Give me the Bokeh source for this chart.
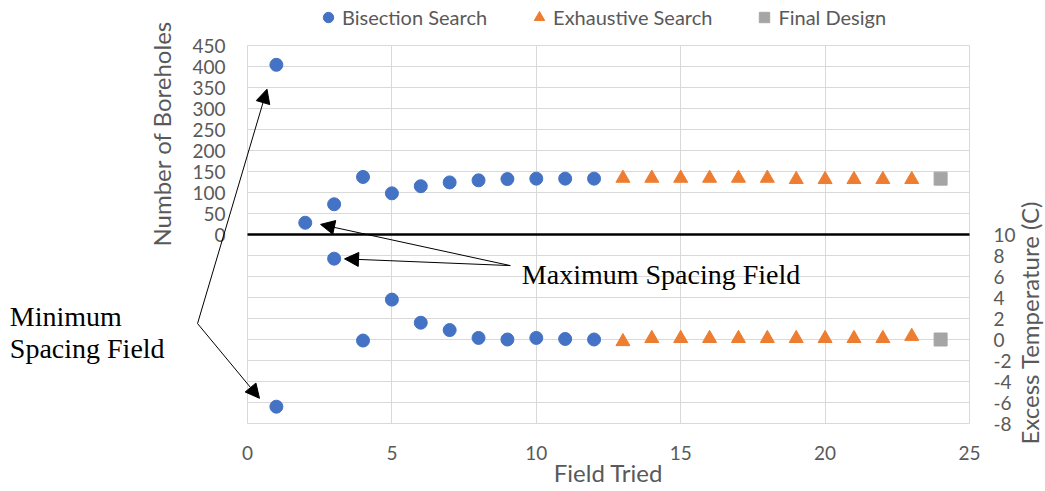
from bokeh.plotting import figure
from bokeh.models import (Range1d, LinearAxis, FixedTicker, Label, Arrow,
                          NormalHead, Legend, LegendItem, PrintfTickFormatter)
from bokeh.embed import file_html
from bokeh.resources import INLINE

nan = float("nan")

# ---- data ----
bis_field = [1, 2, 3, 4, 5, 6, 7, 8, 9, 10, 11, 12]
bis_boreholes = [404, 28, 72, 137, 98, 115, 124, 129, 132, 133, 133, 133]
bis_temp = [-6.4, nan, 7.7, -0.1, 3.8, 1.6, 0.9, 0.15, 0.0, 0.15, 0.05, 0.0]

exh_field = [13, 14, 15, 16, 17, 18, 19, 20, 21, 22, 23]
exh_boreholes = [134, 134, 134, 134, 134, 134, 131, 131, 131, 131, 131]
exh_temp = [-0.2, 0.1, 0.1, 0.1, 0.1, 0.1, 0.1, 0.1, 0.1, 0.1, 0.3]

fin_field = [24]
fin_boreholes = [133]
fin_temp = [0.0]

x_ticks = [0, 5, 10, 15, 20, 25]
left_ticks = [0, 50, 100, 150, 200, 250, 300, 350, 400, 450]
right_ticks = [-8, -6, -4, -2, 0, 2, 4, 6, 8, 10]
grid_y_ticks = list(range(-450, 451, 50))

# ---- styling ----
GRAY_TXT = "#595959"
GRID = "#d9d9d9"
SANS = "Lato"
SERIF = "Liberation Serif"

W, H = 1045, 491
# chart area in canvas pixels: x 0..25 -> 247..969, y 450..-450 -> 45..423
X0, X1 = 247.0, 969.0
SX = (X1 - X0) / 25.0
Y_ZERO = 234.0
SY = 378.0 / 900.0
x_lo, x_hi = -X0 / SX, (W - X0) / SX
y_hi, y_lo = Y_ZERO / SY, (Y_ZERO - H) / SY
t_hi, t_lo = 10 + y_hi / 25.0, 10 + y_lo / 25.0

p = figure(width=W, height=H, x_range=Range1d(x_lo, x_hi), y_range=Range1d(y_lo, y_hi),
           output_backend="svg", toolbar_location=None,
           min_border_left=0, min_border_right=0, min_border_top=0, min_border_bottom=0)
p.extra_y_ranges = {"temp": Range1d(t_lo, t_hi)}
p.outline_line_color = None
p.background_fill_color = "white"

# grids limited to chart area
p.xgrid.ticker = FixedTicker(ticks=x_ticks)
p.ygrid.ticker = FixedTicker(ticks=grid_y_ticks)
p.xgrid.bounds = (0, 25)
p.ygrid.bounds = (-450, 450)
p.xgrid.grid_line_color = GRID
p.ygrid.grid_line_color = GRID
try:
    p.xgrid.cross_bounds = (-450, 450)
    p.ygrid.cross_bounds = (0, 25)
except Exception:
    p.xgrid.grid_line_color = None
    p.ygrid.grid_line_color = None
    p.segment(x0=x_ticks, y0=[-450] * len(x_ticks), x1=x_ticks, y1=[450] * len(x_ticks),
              line_color=GRID, line_width=1)
    p.segment(x0=[0] * len(grid_y_ticks), y0=grid_y_ticks, x1=[25] * len(grid_y_ticks),
              y1=grid_y_ticks, line_color=GRID, line_width=1)

def style_axis(ax, standoff):
    ax.axis_line_color = None
    ax.major_tick_line_color = None
    ax.minor_tick_line_color = None
    ax.major_label_text_font = SANS
    ax.major_label_text_font_size = "19px"
    ax.major_label_text_color = GRAY_TXT
    ax.major_label_standoff = standoff

p.xaxis.ticker = FixedTicker(ticks=x_ticks)
p.xaxis.fixed_location = -450
p.xaxis.bounds = (0, 25)
style_axis(p.xaxis[0], 16)

p.yaxis.ticker = FixedTicker(ticks=left_ticks)
p.yaxis.fixed_location = 0
p.yaxis.bounds = (0, 450)
style_axis(p.yaxis[0], 16)

right = LinearAxis(y_range_name="temp", ticker=FixedTicker(ticks=right_ticks),
                   formatter=PrintfTickFormatter(format="%d"),
                   fixed_location=25, bounds=(-8, 10))
style_axis(right, 18)
p.add_layout(right, "right")

# zero line
p.segment(x0=[0], y0=[0], x1=[25], y1=[0], line_color="black", line_width=2.5)

# data marks
r1 = p.scatter(bis_field, bis_boreholes, marker="circle", size=13, color="#4472C4")
r2 = p.scatter(bis_field, bis_temp, marker="circle", size=13, color="#4472C4", y_range_name="temp")
r3 = p.scatter(exh_field, exh_boreholes, marker="triangle", size=14, color="#ED7D31")
r4 = p.scatter(exh_field, exh_temp, marker="triangle", size=14, color="#ED7D31", y_range_name="temp")
r5 = p.scatter(fin_field, fin_boreholes, marker="square", size=13, color="#A5A5A5")
r6 = p.scatter(fin_field, fin_temp, marker="square", size=13, color="#A5A5A5", y_range_name="temp")

legend = Legend(items=[LegendItem(label="Bisection Search", renderers=[r1]),
                       LegendItem(label="Exhaustive Search", renderers=[r3]),
                       LegendItem(label="Final Design", renderers=[r5])],
                orientation="horizontal", location=(315, 461),
                glyph_width=26, glyph_height=26, label_standoff=1, spacing=39,
                padding=0, margin=0, border_line_color=None, background_fill_alpha=0,
                label_text_font=SANS, label_text_font_size="20px", label_text_color=GRAY_TXT)
p.add_layout(legend)

# axis titles
p.add_layout(Label(x=-2.98, y=240, text="Number of Boreholes", angle=90, angle_units="deg",
                   text_align="center", text_baseline="middle", text_font=SANS,
                   text_font_size="24px", text_color=GRAY_TXT))
p.add_layout(Label(x=27.08, y=1.6, y_range_name="temp", text="Excess Temperature (C)", angle=90,
                   angle_units="deg", text_align="center", text_baseline="middle",
                   text_font=SANS, text_font_size="24px", text_color=GRAY_TXT))
p.add_layout(Label(x=12.5, y=-567, text="Field Tried", text_align="center",
                   text_baseline="middle", text_font=SANS, text_font_size="24px",
                   text_color=GRAY_TXT))

# annotations
def ann(x, y, t):
    p.add_layout(Label(x=x, y=y, text=t, text_align="left", text_baseline="alphabetic",
                       text_font=SERIF, text_font_size="28px", text_color="black"))

ann(-8.23, -195, "Minimum")
ann(-8.23, -272, "Spacing Field")
ann(9.5, -95, "Maximum Spacing Field")

def arrow(xs, ys, xe, ye):
    p.add_layout(Arrow(end=NormalHead(size=14, fill_color="black", line_color="black"),
                       x_start=xs, y_start=ys, x_end=xe, y_end=ye,
                       line_color="black", line_width=1))

arrow(-1.73, -212, 0.675, 346)
arrow(-1.73, -212, 0.415, -390)
arrow(9.1, -74, 2.53, 24)
arrow(9.1, -74, 3.36, -58)

open("out.html", "w").write(file_html(p, INLINE))
